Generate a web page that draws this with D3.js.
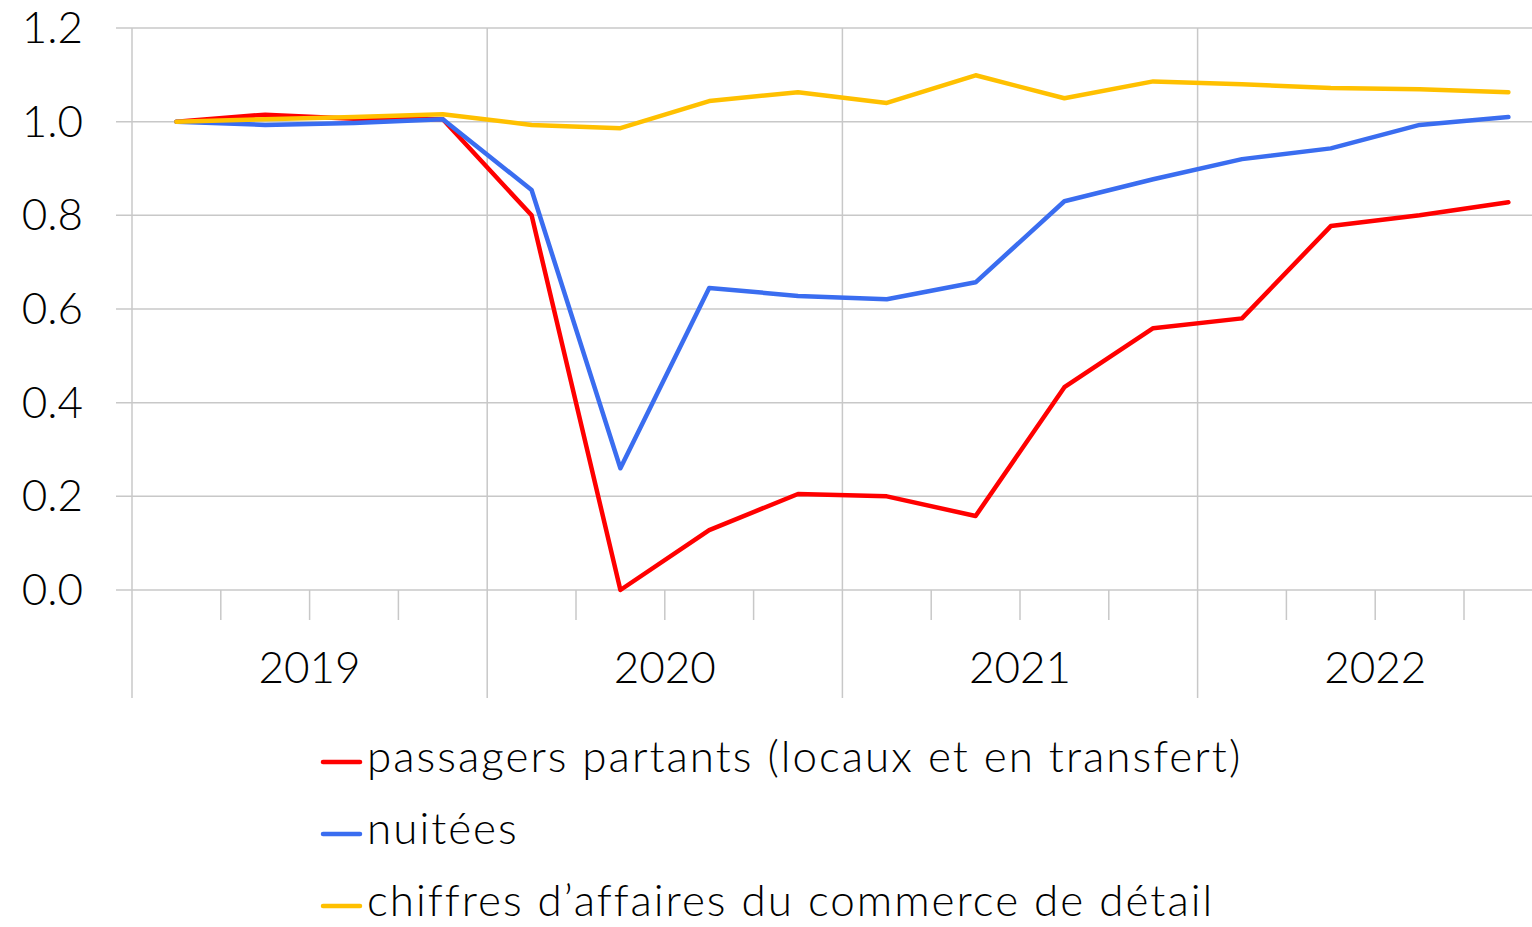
<!DOCTYPE html>
<html><head><meta charset="utf-8">
<script src="https://cdn.jsdelivr.net/npm/d3@7"></script>
<style>body{margin:0;background:#fff}svg{display:block}text{font-family:Lato,"Open Sans",sans-serif;font-weight:300;fill:#000}</style>
</head><body><svg id="c" width="1532" height="927"></svg>
<script>
const years = ["2019","2020","2021","2022"];
const quarters = d3.range(16);
const yTicks = [0,0.2,0.4,0.6,0.8,1.0,1.2];
const passagers = [1.0,1.015,1.006,1.005,0.80,0.0,0.128,0.205,0.20,0.158,0.433,0.559,0.58,0.777,0.80,0.828];
const nuitees = [1.0,0.993,0.997,1.005,0.854,0.26,0.645,0.628,0.621,0.657,0.83,0.877,0.92,0.943,0.993,1.01];
const commerce = [1.0,1.005,1.01,1.016,0.993,0.986,1.044,1.063,1.04,1.099,1.05,1.086,1.08,1.072,1.069,1.063];
const seriesNames = ["passagers partants (locaux et en transfert)","nuitées","chiffres d\u2019affaires du commerce de détail"];
const colors = ["#ff0000","#3a6df0","#ffc000"];

const svg = d3.select("#c");
const x0 = 132, qw = 88.8;
const x = d3.scaleLinear().domain([0,16]).range([x0, x0+16*qw]);
const y = d3.scaleLinear().domain([0,1.2]).range([590,28]);
const grid = "#c8c8c8";

svg.append("g").selectAll("line").data(yTicks).join("line")
  .attr("x1",116).attr("x2",1532).attr("y1",d=>y(d)).attr("y2",d=>y(d))
  .attr("stroke",grid).attr("stroke-width",1.5);
svg.append("g").selectAll("line").data(d3.range(0,17,4)).join("line")
  .attr("x1",d=>x(d)).attr("x2",d=>x(d)).attr("y1",28).attr("y2",698)
  .attr("stroke",grid).attr("stroke-width",1.5);
svg.append("g").selectAll("line").data(d3.range(1,16).filter(k=>k%4)).join("line")
  .attr("x1",d=>x(d)).attr("x2",d=>x(d)).attr("y1",590).attr("y2",620)
  .attr("stroke",grid).attr("stroke-width",1.5);
svg.append("g").selectAll("text").data(yTicks).join("text")
  .attr("x",83).attr("y",d=>y(d)+15).attr("text-anchor","end")
  .attr("font-size",44).text(d=>d.toFixed(1));
svg.append("g").selectAll("text").data(years).join("text")
  .attr("x",(d,i)=>x(i*4+2)).attr("y",683).attr("text-anchor","middle")
  .attr("font-size",44).text(d=>d);

const line = d3.line().x((d,i)=>x(i+0.5)).y(d=>y(d));
[passagers,nuitees,commerce].forEach((s,i)=>{
  svg.append("path").datum(s).attr("d",line).attr("fill","none")
    .attr("stroke",colors[i]).attr("stroke-width",4.5).attr("stroke-linejoin","round").attr("stroke-linecap","round");
});
const lg = svg.append("g");
seriesNames.forEach((n,i)=>{
  const ly = 762 + i*72;
  lg.append("line").attr("x1",323).attr("x2",360).attr("y1",ly).attr("y2",ly)
    .attr("stroke",colors[i]).attr("stroke-width",4.5).attr("stroke-linecap","round");
  lg.append("text").attr("x",367).attr("y",ly+10).attr("font-size",44)
    .attr("letter-spacing",2).text(n);
});
</script></body></html>
